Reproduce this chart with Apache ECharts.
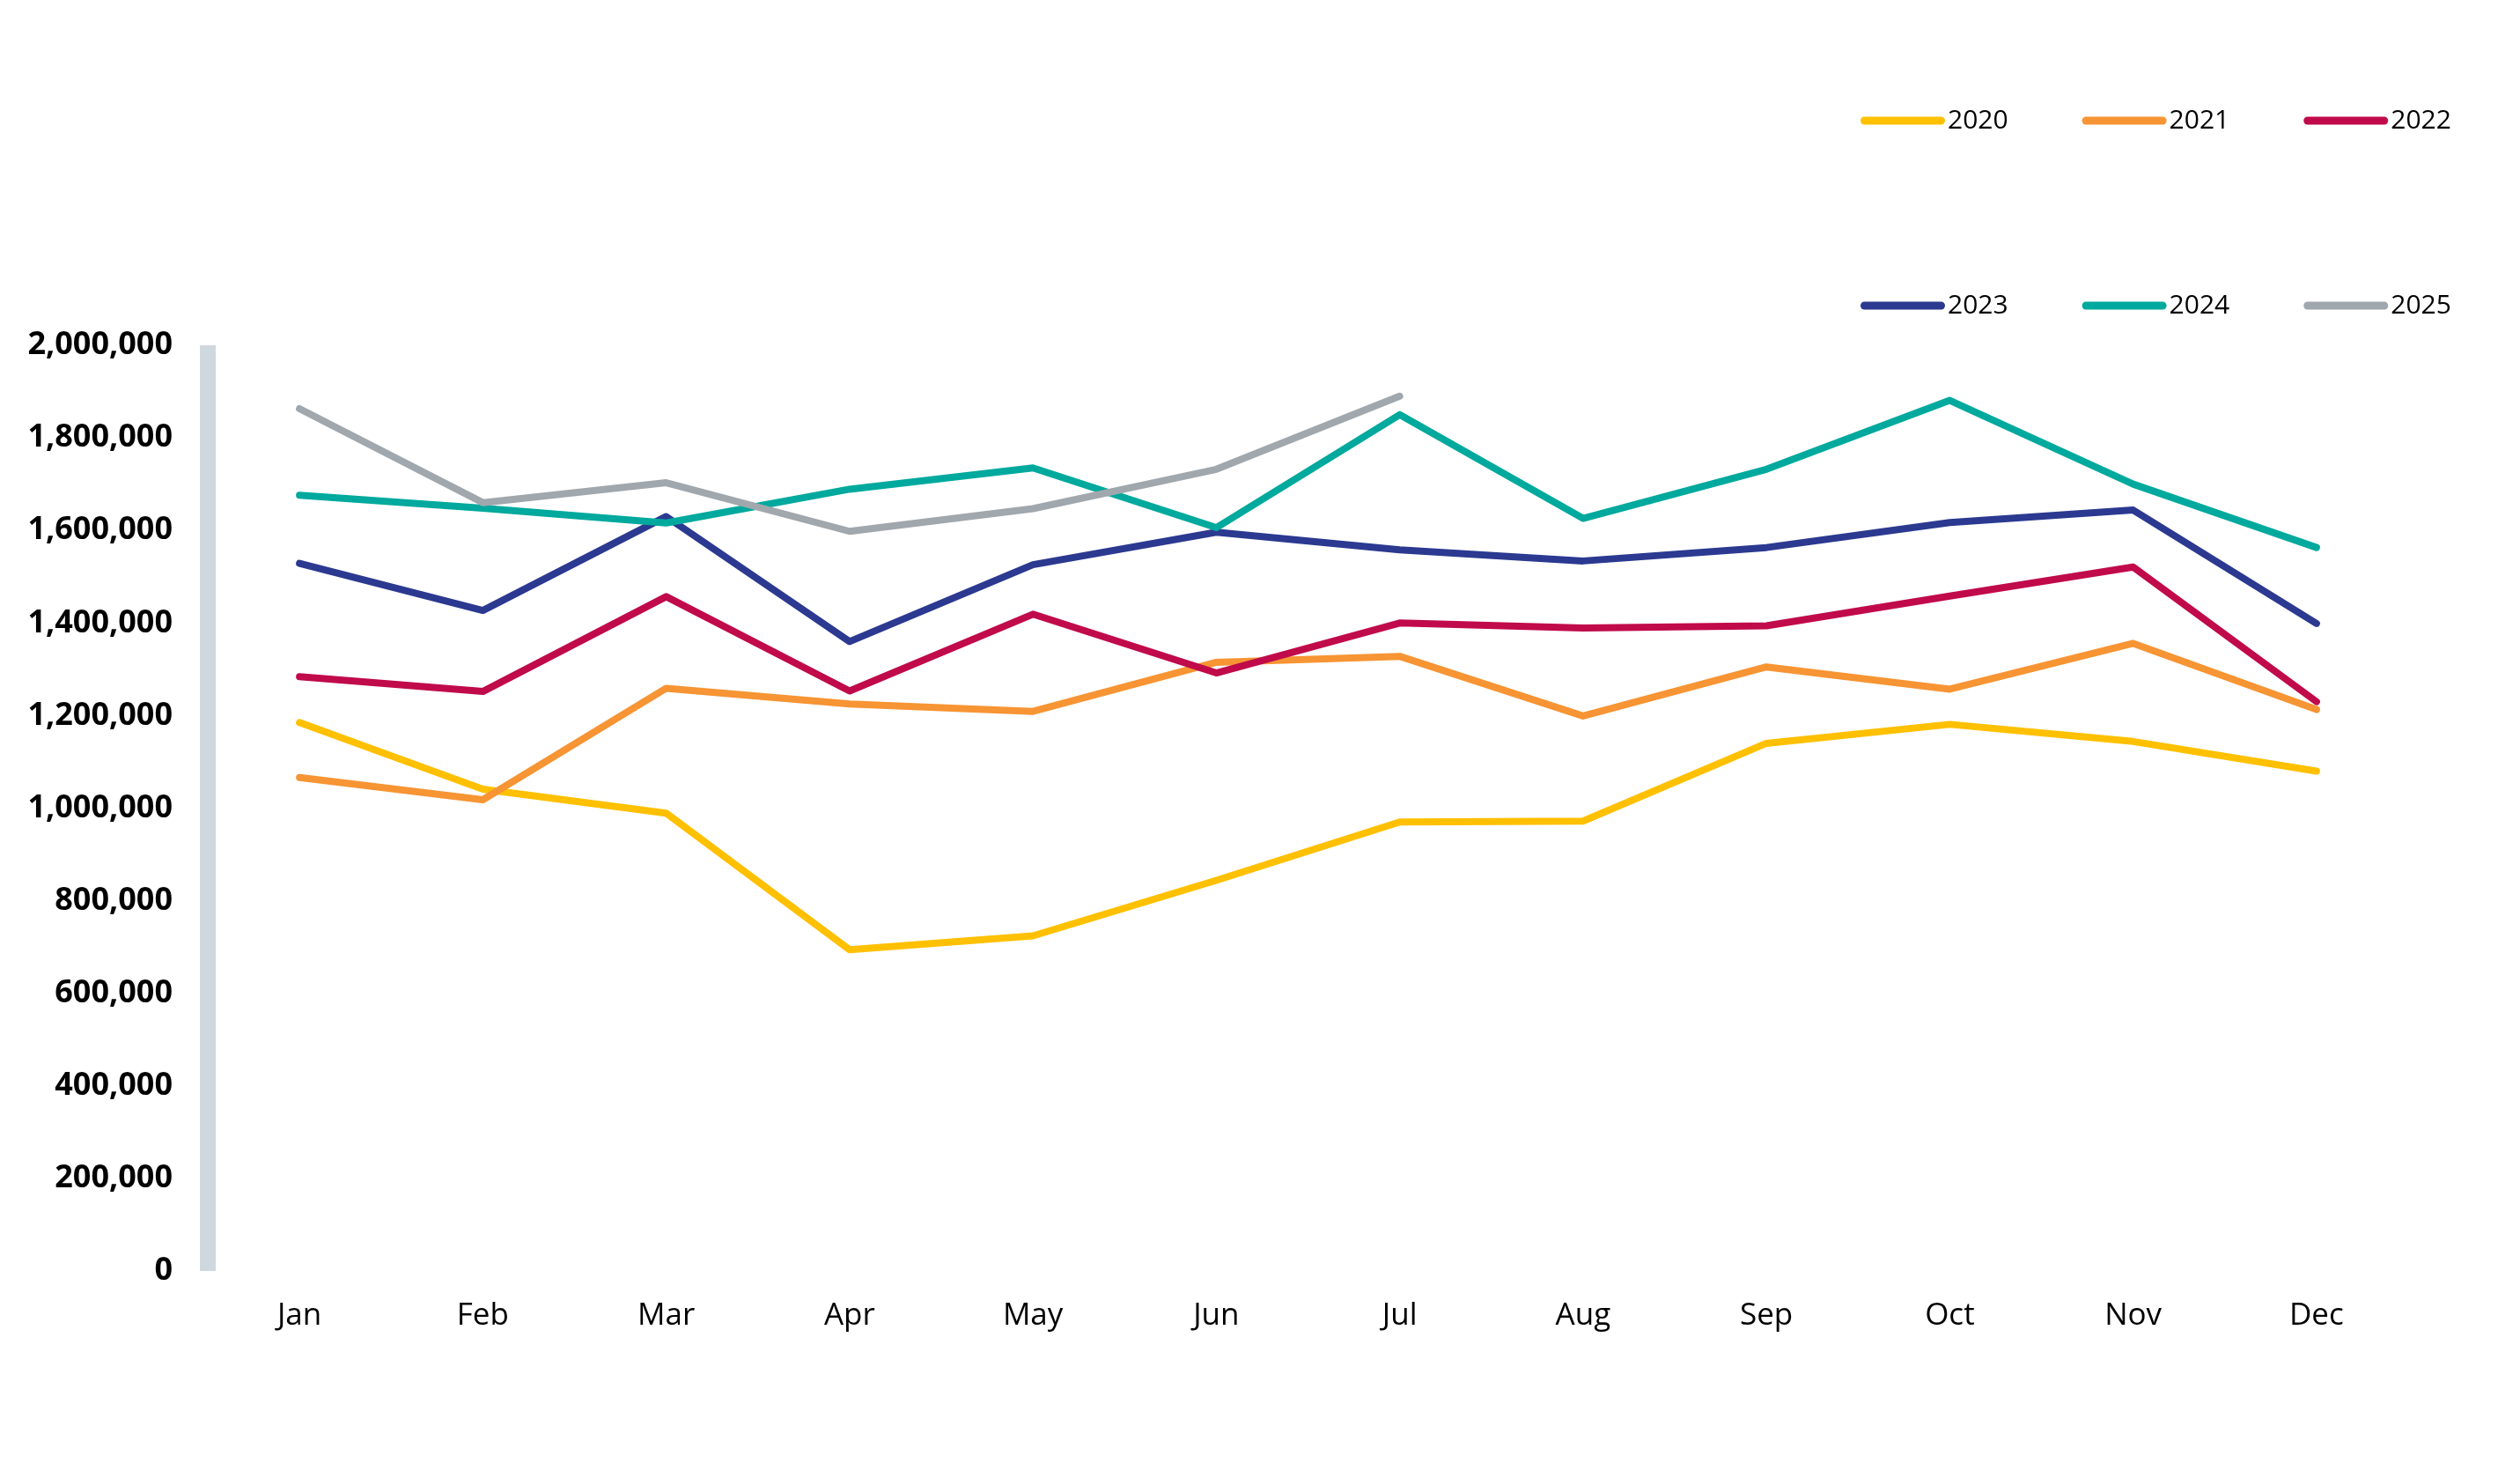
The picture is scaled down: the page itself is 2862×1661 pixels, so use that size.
<!DOCTYPE html>
<html>
<head>
<meta charset="utf-8">
<script src="https://cdn.jsdelivr.net/npm/echarts@6/dist/echarts.min.js"></script>
<style>
html,body{margin:0;padding:0;background:#fff;}
#chart{width:2862px;height:1661px;}
</style>
</head>
<body>
<div id="chart"></div>
<script>
const months = ['Jan','Feb','Mar','Apr','May','Jun','Jul','Aug','Sep','Oct','Nov','Dec'];
const years = ['2020','2021','2022','2023','2024','2025'];
const s2020 = [1185000,1041000,989000,694000,724000,844000,970000,972000,1140000,1181000,1144000,1080000];
const s2021 = [1066000,1018000,1259000,1225000,1209000,1315000,1328000,1199000,1305000,1257000,1356000,1213000];
const s2022 = [1284000,1252000,1457000,1253000,1419000,1292000,1400000,1389000,1394000,1458000,1521000,1230000];
const s2023 = [1529000,1427000,1630000,1360000,1526000,1596000,1558000,1534000,1563000,1617000,1644000,1399000];
const s2024 = [1676000,1648000,1616000,1689000,1735000,1606000,1850000,1626000,1732000,1881000,1700000,1563000];
const s2025 = [1863000,1660000,1703000,1598000,1647000,1732000,1890000,null,null,null,null,null];
const seriesData = [s2020,s2021,s2022,s2023,s2024,s2025];
const colors = ['#FFC000','#F79433','#C00A4A','#2B3990','#00A99D','#A0A7AD'];
const yTicks = {min:0, max:2000000, interval:200000};

const chart = echarts.init(document.getElementById('chart'));
const font = '"Open Sans", "Noto Sans", sans-serif';
const capsule = 'path://M4.5,0 H91.5 A4.5,4.5 0 0 1 91.5,9 H4.5 A4.5,4.5 0 0 1 4.5,0 Z';
function legendRow(items, top){
  return {
    data: items, top: top, left: 2108, orient: 'horizontal',
    icon: capsule, itemWidth: 96, itemHeight: 9, itemGap: 84,
    textStyle: {fontFamily: font, fontSize: 30, color: '#000', width: 70, padding:[0,0,0,-2]}
  };
}
chart.setOption({
  backgroundColor: '#fff',
  animation: false,
  color: colors,
  legend: [legendRow(years.slice(0,3), 117), legendRow(years.slice(3), 327)],
  grid: {left: 236, right: 127, top: 392, bottom: 218, containLabel: false},
  xAxis: {
    type: 'category', data: months, boundaryGap: true,
    axisLine: {show: false}, axisTick: {show: false}, splitLine: {show:false},
    axisLabel: {fontFamily: font, fontSize: 35, color: '#000', margin: 34}
  },
  yAxis: {
    type: 'value', min: yTicks.min, max: yTicks.max, interval: yTicks.interval,
    axisLine: {show: true, lineStyle: {color: '#CFD8DE', width: 18, cap: 'butt'}},
    axisTick: {show: false}, splitLine: {show: false},
    axisLabel: {
      fontFamily: font, fontSize: 36, fontWeight: 'bold', color: '#000', margin: 40,
      formatter: v => v.toLocaleString('en-US')
    }
  },
  series: years.map((y,i) => ({
    name: y, type: 'line', data: seriesData[i],
    showSymbol: false, symbol: 'none', connectNulls: false,
    lineStyle: {width: 8, color: colors[i], cap: 'round', join: 'round'},
    itemStyle: {color: colors[i]},
    z: 2 + i
  }))
});
</script>
</body>
</html>
